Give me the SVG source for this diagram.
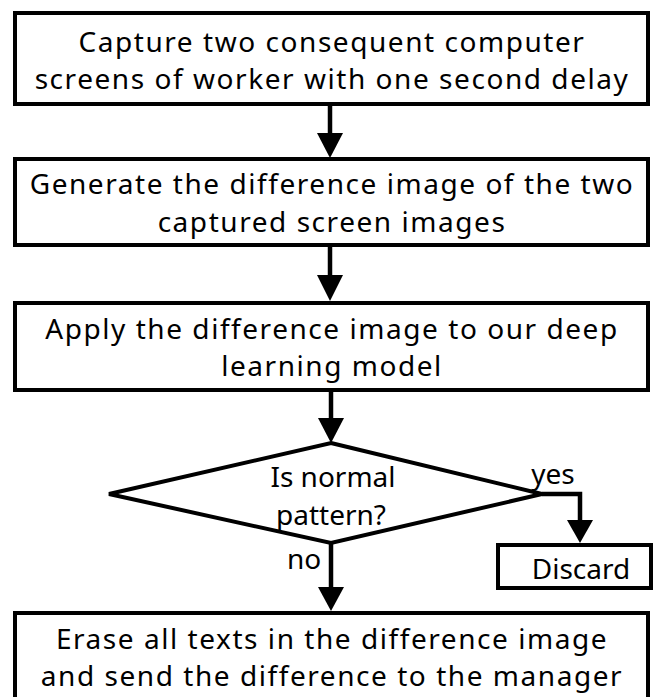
<svg xmlns="http://www.w3.org/2000/svg" width="655" height="697" viewBox="0 0 655 697">
  <defs>
    <style>
      .box { fill: #fff; stroke: #000; stroke-width: 4; }
      .lbl { font-family: "Noto Sans", "Open Sans", sans-serif; font-size: 28px; fill: #000; text-anchor: middle; }
      .wide { letter-spacing: 1.55px; }
      .edge { fill: none; stroke: #000; stroke-width: 4.5; }
      .head { fill: #000; }
    </style>
  </defs>

  <rect width="655" height="697" fill="#fff"/>

  <!-- connectors: shafts plus filled triangular heads -->
  <g id="connectors">
    <path class="edge" d="M330,104 V134" />
    <path class="head" d="M317,133 L343,133 L330,158 Z"/>
    <path class="edge" d="M330,245 V276" />
    <path class="head" d="M317,275 L343,275 L330,301 Z"/>
    <path class="edge" d="M331,390 V419" />
    <path class="head" d="M318,418 L344,418 L331,443 Z"/>
    <path class="edge" d="M331,543 V588" />
    <path class="head" d="M318,587 L344,587 L331,611 Z"/>
    <path class="edge" d="M542,494 H580 V521" />
    <path class="head" d="M567,520 L593,520 L580,543 Z"/>
  </g>

  <g id="capture">
    <rect class="box" x="15" y="13" width="633" height="91"/>
    <text class="lbl wide" x="332" y="52">Capture two consequent computer</text>
    <text class="lbl wide" x="332" y="89">screens of worker with one second delay</text>
  </g>

  <g id="difference">
    <rect class="box" x="15" y="159" width="633" height="86"/>
    <text class="lbl wide" x="332" y="194">Generate the difference image of the two</text>
    <text class="lbl wide" x="332" y="232">captured screen images</text>
  </g>

  <g id="apply">
    <rect class="box" x="15" y="303" width="633" height="87"/>
    <text class="lbl wide" x="332" y="339">Apply the difference image to our deep</text>
    <text class="lbl wide" x="332" y="376">learning model</text>
  </g>

  <g id="decision">
    <polygon class="box" points="331,443 542,494 331,543 109,494"/>
    <text class="lbl" x="333" y="487">Is normal</text>
    <text class="lbl" x="331" y="525">pattern?</text>
  </g>

  <text class="lbl" x="553" y="484">yes</text>
  <text class="lbl" x="304" y="569">no</text>

  <g id="discard">
    <rect class="box" x="498" y="545" width="153" height="43"/>
    <text class="lbl" x="581" y="579">Discard</text>
  </g>

  <g id="erase">
    <rect class="box" x="15" y="613" width="633" height="100"/>
    <text class="lbl wide" x="332" y="649">Erase all texts in the difference image</text>
    <text class="lbl wide" x="332" y="686">and send the difference to the manager</text>
  </g>
</svg>
